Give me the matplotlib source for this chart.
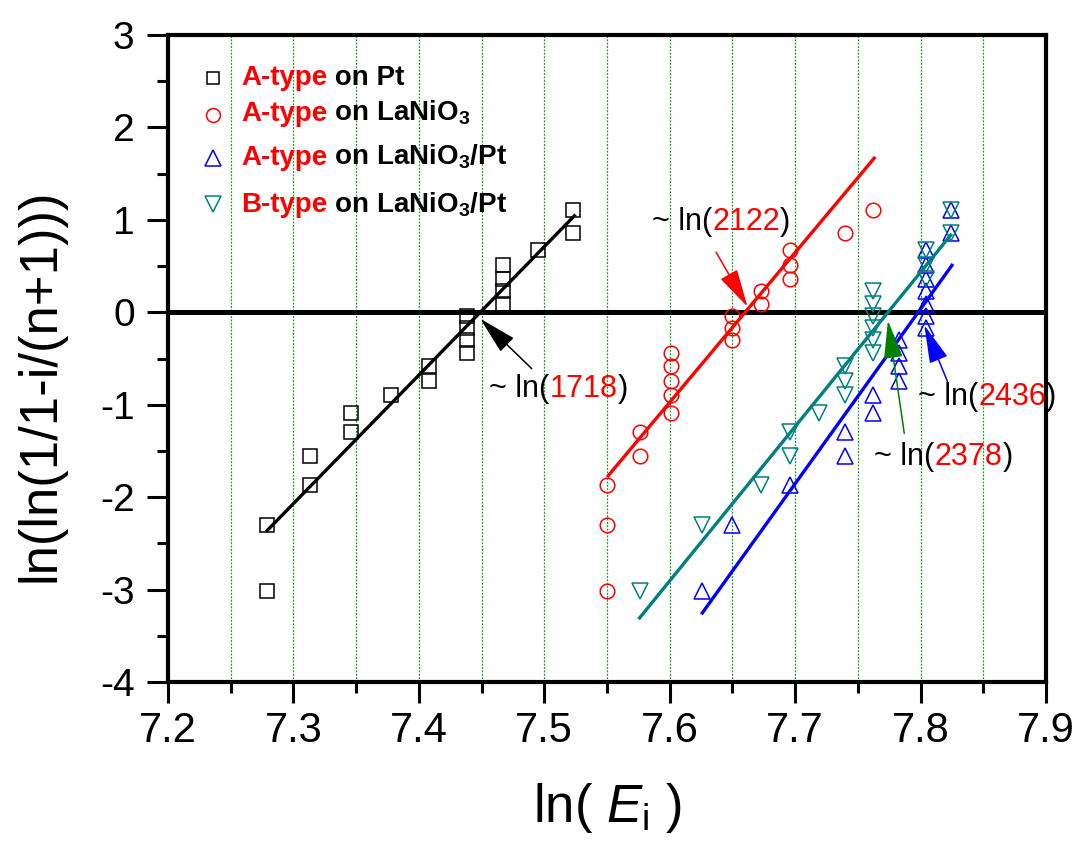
import numpy as np
import matplotlib
matplotlib.use('Agg')
import matplotlib.pyplot as plt
from matplotlib.ticker import MultipleLocator
from matplotlib.transforms import IdentityTransform

plt.rcParams['font.family'] = ['Liberation Sans', 'DejaVu Sans']
plt.rcParams['mathtext.fontset'] = 'custom'
plt.rcParams['mathtext.rm'] = 'Liberation Sans'
plt.rcParams['mathtext.it'] = 'Liberation Sans:italic'
plt.rcParams['mathtext.bf'] = 'Liberation Sans:bold'
plt.rcParams['mathtext.default'] = 'regular'
plt.rcParams['axes.unicode_minus'] = False

# Weibull ranks ln(ln(1/(1-i/(n+1)))), n = 20, shared by all four samples
rank_y = [-3.02, -2.30, -1.87, -1.55, -1.30, -1.09, -0.90, -0.74, -0.58, -0.44,
          -0.30, -0.17, -0.04, 0.09, 0.23, 0.36, 0.51, 0.67, 0.86, 1.11]

# ln(E_i) of each breakdown event, sorted
lnE_a_pt = [7.279, 7.279, 7.313, 7.313, 7.346, 7.346, 7.378, 7.408, 7.408, 7.438,
            7.438, 7.438, 7.438, 7.467, 7.467, 7.467, 7.467, 7.495, 7.523, 7.523]
lnE_a_lno = [7.550, 7.550, 7.550, 7.576, 7.576, 7.601, 7.601, 7.601, 7.601, 7.601,
             7.650, 7.650, 7.650, 7.673, 7.673, 7.696, 7.696, 7.696, 7.740, 7.762]
lnE_a_lnopt = [7.626, 7.650, 7.696, 7.740, 7.740, 7.762, 7.762, 7.783, 7.783, 7.783,
               7.783, 7.804, 7.804, 7.804, 7.804, 7.804, 7.804, 7.804, 7.824, 7.824]
lnE_b_lnopt = [7.576, 7.626, 7.673, 7.696, 7.696, 7.719, 7.740, 7.740, 7.740, 7.762,
               7.762, 7.762, 7.762, 7.762, 7.762, 7.804, 7.804, 7.804, 7.824, 7.824]

# linear fits: slope, characteristic field E0 (y = 0 at ln E0), fitted span
fit_slopes = [13.9, 16.2, 18.9, 16.7]
fit_e0 = [1718, 2122, 2436, 2378]
fit_spans = [(7.279, 7.524), (7.551, 7.763), (7.626, 7.825), (7.576, 7.824)]

film_types = ['A-type', 'A-type', 'A-type', 'B-type']
substrates = ['Pt', 'LaNiO$_3$', 'LaNiO$_3$/Pt', 'LaNiO$_3$/Pt']
colors = ['black', 'red', 'blue', '#008080']
markers = ['s', 'o', '^', 'v']
msizes = [9.5, 10.5, 12, 12]

# arrow tip, arrow tail, label anchor for each E0 callout
arrow_tips = [(7.449, -0.07), (7.662, 0.06), (7.803, -0.14), (7.774, -0.09)]
arrow_tails = [(7.490, -0.61), (7.637, 0.65), (7.8215, -0.75), (7.787, -1.31)]
label_pos = [(7.456, -0.92), (7.586, 0.886), (7.798, -1.005), (7.763, -1.654)]
arrow_colors = ['black', 'red', 'blue', 'green']

fig = plt.figure(figsize=(10.8, 8.49), dpi=100)
ax = fig.add_axes([168 / 1080, 1 - 682 / 849, 878 / 1080, 647 / 849])
renderer = fig.canvas.get_renderer()


def colored_text(x, y, parts, transform, **kw):
    """Write (string, colour) pieces one after another on a common baseline."""
    dx, dy = transform.transform((x, y))
    for s, c in parts:
        t = fig.text(dx, dy, s, color=c, transform=IdentityTransform(),
                     ha='left', va='baseline', **kw)
        dx += t.get_window_extent(renderer).width


ax.set_xlim(7.2, 7.9)
ax.set_ylim(-4, 3)
ax.xaxis.set_major_locator(MultipleLocator(0.1))
ax.xaxis.set_minor_locator(MultipleLocator(0.05))
ax.yaxis.set_major_locator(MultipleLocator(1))
ax.yaxis.set_minor_locator(MultipleLocator(0.5))
ax.grid(axis='x', which='both', color='#1a9a1a', linestyle=(0, (1.5, 1.2)), lw=0.9)
ax.set_axisbelow(True)

for sp in ax.spines.values():
    sp.set_linewidth(3)
ax.tick_params(which='both', direction='out', top=False, right=False, width=2.2)
ax.tick_params(which='major', length=15)
ax.tick_params(which='minor', length=8)
ax.tick_params(axis='x', labelsize=30, pad=6)
ax.tick_params(axis='y', labelsize=28, pad=9)

ax.axhline(0, color='black', lw=3.6, zorder=1)

series_x = [lnE_a_pt, lnE_a_lno, lnE_a_lnopt, lnE_b_lnopt]
for xs, c, m, ms in zip(series_x, colors, markers, msizes):
    ax.plot(xs, rank_y, ls='none', marker=m, ms=ms, mfc='none', mec=c, mew=1.1,
            zorder=3)

for slope, e0, (x0, x1), c in zip(fit_slopes, fit_e0, fit_spans, colors):
    xs = np.array([x0, x1])
    ax.plot(xs, slope * (xs - np.log(e0)), color=c, lw=2.4, zorder=4)

# callouts for the characteristic breakdown field
for e0, tip, tail, pos, ac in zip(fit_e0, arrow_tips, arrow_tails, label_pos, arrow_colors):
    ax.annotate('', xy=tip, xytext=tail,
                arrowprops=dict(arrowstyle='-|>,head_length=1.2,head_width=0.3',
                                mutation_scale=20, color=ac, lw=1.1,
                                shrinkA=0, shrinkB=0), zorder=5)
    colored_text(pos[0], pos[1], [('~ ln(', 'black'), (str(e0), 'red'), (')', 'black')],
                 ax.transData, fontsize=22)

# legend, drawn by hand so the film type can be red
leg_marker_y = [0.9335, 0.8764, 0.8099, 0.7388]
leg_text_y = [0.9227, 0.8671, 0.7991, 0.7264]
for ftype, sub, c, m, ms, my, ty in zip(film_types, substrates, colors, markers,
                                        msizes, leg_marker_y, leg_text_y):
    ax.plot([0.0513], [my], ls='none', marker=m, ms=ms * 0.95, mfc='none', mec=c,
            mew=1.1, transform=ax.transAxes, clip_on=False)
    colored_text(0.0831, ty, [(ftype, 'red'), (' on ' + sub, 'black')],
                 ax.transAxes, fontsize=20, fontweight='bold')

fig.text(41 / 1080, 1 - 385 / 849, 'ln(ln(1/1-i/(n+1)))', rotation=90,
         ha='center', va='center', fontsize=38)
fig.text(607 / 1080, 1 - 822 / 849, r'ln( $\mathit{E}_{\mathrm{i}}$ )',
         ha='center', va='baseline', fontsize=38)

fig.savefig('out.png', dpi=100)
